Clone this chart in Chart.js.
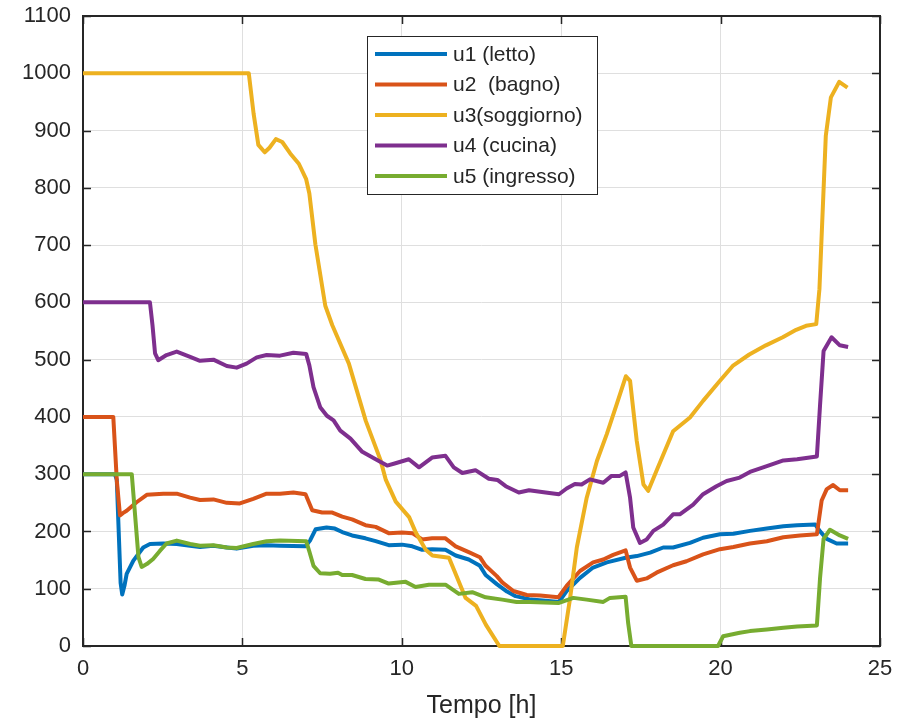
<!DOCTYPE html>
<html>
<head>
<meta charset="utf-8">
<script src="https://cdn.jsdelivr.net/npm/chart.js"></script>
<style>
  body { margin: 0; background: #fff; }
  #wrap { width: 907px; height: 723px; }
</style>
</head>
<body>
<div id="wrap"><canvas id="chart" width="907" height="723"></canvas></div>
<script>
// tick labels
const xTicks = [0, 5, 10, 15, 20, 25];
const yTicks = [0, 100, 200, 300, 400, 500, 600, 700, 800, 900, 1000, 1100];

const labels = ['u1 (letto)', 'u2  (bagno)', 'u3(soggiorno)', 'u4 (cucina)', 'u5 (ingresso)'];
const colors = ['#0072BD', '#D95319', '#EDB120', '#7E2F8E', '#77AC30'];

// u1 (letto)
const u1T = [0, 1.0, 1.06, 1.12, 1.18, 1.23, 1.3, 1.37, 1.58, 1.89, 2.1, 2.52, 2.94, 3.36, 3.67, 4.09, 4.51, 4.82, 5.34, 5.76, 6.18, 6.98, 7.12, 7.3, 7.64, 7.9, 8.13, 8.44, 8.86, 9.18, 9.59, 10.01, 10.33, 10.64, 10.95, 11.37, 11.69, 12.1, 12.45, 12.63, 12.98, 13.3, 13.57, 14.05, 14.51, 14.93, 15.17, 15.59, 16.0, 16.43, 17.02, 17.37, 17.79, 18.2, 18.51, 19.04, 19.45, 19.98, 20.4, 20.92, 21.45, 21.97, 22.4, 22.97, 23.12, 23.33, 23.64, 24.0];
const u1V = [300, 300, 290, 200, 110, 90, 105, 126, 149, 172, 178, 179, 178, 175, 173, 175, 172, 170, 175, 176, 175, 174, 184, 204, 207, 205, 199, 193, 188, 183, 176, 177, 174, 168, 169, 168, 158, 151, 140, 124, 108, 95, 87, 81, 79, 77, 96, 119, 137, 146, 154, 157, 163, 172, 172, 180, 189, 195, 196, 201, 205, 209, 211, 212, 200, 187, 179, 179];

// u2 (bagno)
const u2T = [0, 0.95, 1.0, 1.06, 1.16, 1.25, 1.37, 1.68, 2.0, 2.52, 2.94, 3.36, 3.67, 4.09, 4.51, 4.92, 5.34, 5.76, 6.18, 6.6, 6.98, 7.19, 7.5, 7.82, 8.13, 8.44, 8.86, 9.18, 9.59, 10.01, 10.33, 10.64, 10.95, 11.37, 11.69, 12.1, 12.45, 12.63, 12.98, 13.15, 13.5, 13.92, 14.34, 14.91, 15.17, 15.59, 16.0, 16.32, 16.63, 17.02, 17.16, 17.37, 17.68, 17.99, 18.51, 18.93, 19.45, 19.98, 20.4, 20.92, 21.45, 21.97, 22.49, 23.02, 23.17, 23.33, 23.53, 23.74, 24.0];
const u2V = [400, 400, 350, 289, 228, 232, 236, 251, 264, 266, 266, 259, 255, 256, 250, 249, 257, 266, 266, 268, 265, 237, 233, 233, 226, 221, 211, 208, 197, 198, 197, 186, 188, 188, 174, 164, 155, 140, 122, 111, 96, 89, 88, 85, 105, 131, 146, 151, 159, 167, 137, 114, 118, 128, 141, 148, 160, 169, 173, 179, 183, 190, 193, 195, 254, 274, 281, 272, 272];

// u3 (soggiorno)
const u3T = [0, 5.2, 5.35, 5.5, 5.7, 5.85, 6.05, 6.25, 6.5, 6.77, 7.0, 7.1, 7.29, 7.6, 7.82, 8.34, 8.87, 9.33, 9.5, 9.81, 10.23, 10.44, 10.75, 10.96, 11.48, 11.8, 12.0, 12.33, 12.64, 13.06, 15.05, 15.28, 15.49, 15.8, 16.12, 16.43, 16.74, 17.03, 17.16, 17.37, 17.58, 17.73, 17.99, 18.51, 19.04, 19.45, 19.98, 20.38, 20.9, 21.42, 21.95, 22.37, 22.68, 23.0, 23.1, 23.2, 23.3, 23.46, 23.72, 23.98];
const u3V = [1000, 1000, 930, 875, 862, 870, 885, 880, 860, 842, 815, 790, 701, 594, 560, 493, 393, 325, 290, 252, 225, 198, 168, 158, 154, 111, 84, 70, 37, 0, 0, 84, 172, 259, 323, 370, 422, 471, 463, 358, 282, 271, 306, 375, 399, 428, 463, 489, 509, 525, 539, 552, 559, 562, 623, 757, 891, 958, 985, 975];

// u4 (cucina)
const u4T = [0, 2.1, 2.18, 2.26, 2.36, 2.62, 2.94, 3.36, 3.67, 4.09, 4.51, 4.82, 5.13, 5.45, 5.76, 6.18, 6.6, 7.0, 7.1, 7.23, 7.44, 7.65, 7.86, 8.07, 8.39, 8.76, 9.18, 9.54, 9.8, 10.22, 10.54, 10.95, 11.37, 11.63, 11.9, 12.31, 12.73, 13.0, 13.26, 13.67, 13.99, 14.51, 14.93, 15.17, 15.43, 15.64, 15.9, 16.32, 16.58, 16.84, 17.02, 17.16, 17.26, 17.47, 17.68, 17.89, 18.2, 18.51, 18.72, 19.14, 19.45, 19.87, 20.19, 20.6, 20.92, 21.45, 21.97, 22.4, 23.02, 23.12, 23.23, 23.48, 23.74, 24.0];
const u4V = [600, 600, 560, 511, 499, 508, 514, 505, 498, 500, 489, 486, 493, 504, 508, 507, 512, 510, 490, 452, 417, 402, 394, 376, 362, 339, 326, 315, 319, 326, 312, 329, 332, 312, 302, 307, 292, 290, 279, 268, 272, 268, 265, 275, 283, 282, 291, 285, 297, 297, 303, 259, 207, 180, 186, 201, 212, 230, 230, 247, 265, 279, 288, 294, 304, 314, 324, 326, 331, 421, 515, 539, 525, 522];

// u5 (ingresso)
const u5T = [0, 1.53, 1.63, 1.74, 1.84, 2.0, 2.2, 2.41, 2.62, 2.94, 3.36, 3.67, 4.09, 4.51, 4.82, 5.34, 5.76, 6.18, 7.0, 7.1, 7.23, 7.44, 7.75, 8.0, 8.13, 8.44, 8.86, 9.28, 9.59, 10.12, 10.43, 10.85, 11.37, 11.79, 12.21, 12.63, 13.15, 13.6, 14.02, 14.91, 15.38, 15.8, 16.32, 16.53, 17.02, 17.1, 17.2, 19.92, 20.08, 20.6, 20.92, 21.45, 21.97, 22.4, 23.02, 23.12, 23.23, 23.43, 23.74, 24.0];
const u5V = [300, 300, 231, 155, 138, 143, 152, 166, 179, 184, 178, 175, 176, 172, 171, 178, 183, 184, 183, 165, 140, 127, 126, 128, 124, 124, 117, 116, 109, 112, 103, 107, 107, 91, 94, 85, 81, 77, 77, 75, 84, 81, 77, 84, 86, 40, 0, 0, 17, 23, 26, 29, 32, 34, 36, 119, 187, 203, 193, 187];

const seriesT = [u1T, u2T, u3T, u4T, u5T];
const seriesV = [u1V, u2V, u3V, u4V, u5V];

const FONT = "'Liberation Sans', Arial, Helvetica, sans-serif";
const INK = '#262626';

const datasets = labels.map((label, i) => ({
  label: label,
  data: seriesT[i].map((t, k) => ({ x: t, y: seriesV[i][k] })),
  borderColor: colors[i],
  backgroundColor: colors[i],
  borderWidth: 4,
  borderJoinStyle: 'round',
  pointRadius: 0,
  tension: 0,
  fill: false,
  clip: false,
  order: labels.length - i
}));

// axis box + inward ticks on all four sides, MATLAB style
const framePlugin = {
  id: 'frame',
  beforeDatasetsDraw(chart) {
    const ctx = chart.ctx;
    const a = chart.chartArea;
    const xs = chart.scales.x, ys = chart.scales.y;
    const tl = 8;
    ctx.save();
    ctx.strokeStyle = INK;
    ctx.lineWidth = 1.5;
    ctx.beginPath();
    xTicks.forEach(v => {
      const px = Math.round(xs.getPixelForValue(v)) + 0.5;
      ctx.moveTo(px, a.bottom); ctx.lineTo(px, a.bottom - tl);
      ctx.moveTo(px, a.top); ctx.lineTo(px, a.top + tl);
    });
    yTicks.forEach(v => {
      const py = Math.round(ys.getPixelForValue(v)) + 0.5;
      ctx.moveTo(a.left, py); ctx.lineTo(a.left + tl, py);
      ctx.moveTo(a.right, py); ctx.lineTo(a.right - tl, py);
    });
    ctx.stroke();
    ctx.lineWidth = 2;
    ctx.strokeRect(a.left, a.top, a.right - a.left, a.bottom - a.top);
    ctx.restore();
  }
};

// legend box inside the plot
const legendPlugin = {
  id: 'boxLegend',
  afterDatasetsDraw(chart) {
    const ctx = chart.ctx;
    const bx = 367, by = 36, bw = 230, bh = 158;
    ctx.save();
    ctx.fillStyle = '#fff';
    ctx.fillRect(bx, by, bw, bh);
    ctx.strokeStyle = INK;
    ctx.lineWidth = 1;
    ctx.strokeRect(bx + 0.5, by + 0.5, bw, bh);
    ctx.font = '21px ' + FONT;
    ctx.textBaseline = 'middle';
    ctx.textAlign = 'left';
    chart.data.datasets.forEach((ds, i) => {
      const yy = by + 18 + i * 30.5;
      ctx.strokeStyle = ds.borderColor;
      ctx.lineWidth = 4;
      ctx.beginPath();
      ctx.moveTo(375, yy); ctx.lineTo(447, yy);
      ctx.stroke();
      ctx.fillStyle = INK;
      ctx.fillText(ds.label, 453, yy + 1);
    });
    ctx.restore();
  }
};

new Chart(document.getElementById('chart'), {
  type: 'line',
  data: { datasets: datasets },
  options: {
    responsive: false,
    animation: false,
    devicePixelRatio: 1,
    layout: { padding: { top: 16, right: 27, left: 0, bottom: 0 } },
    plugins: { legend: { display: false }, tooltip: { enabled: false } },
    scales: {
      x: {
        type: 'linear',
        min: 0, max: 25,
        afterBuildTicks: s => { s.ticks = xTicks.map(v => ({ value: v })); },
        afterFit: s => { s.height = 77; s.paddingLeft = 0; s.paddingRight = 0; },
        ticks: { color: INK, font: { family: FONT, size: 22 }, padding: 10, maxRotation: 0, callback: v => String(v) },
        grid: { color: '#dfdfdf', lineWidth: 1, drawTicks: false },
        border: { display: false },
        title: { display: true, text: 'Tempo [h]', color: INK, font: { family: FONT, size: 25 }, padding: { top: 0, bottom: 2 } }
      },
      y: {
        type: 'linear',
        min: 0, max: 1100,
        afterBuildTicks: s => { s.ticks = yTicks.map(v => ({ value: v })); },
        afterFit: s => { s.width = 83; s.paddingTop = 0; s.paddingBottom = 0; },
        ticks: { color: INK, font: { family: FONT, size: 22 }, padding: 12, callback: v => String(v) },
        grid: { color: '#dfdfdf', lineWidth: 1, drawTicks: false },
        border: { display: false }
      }
    }
  },
  plugins: [framePlugin, legendPlugin]
});
</script>
</body>
</html>
